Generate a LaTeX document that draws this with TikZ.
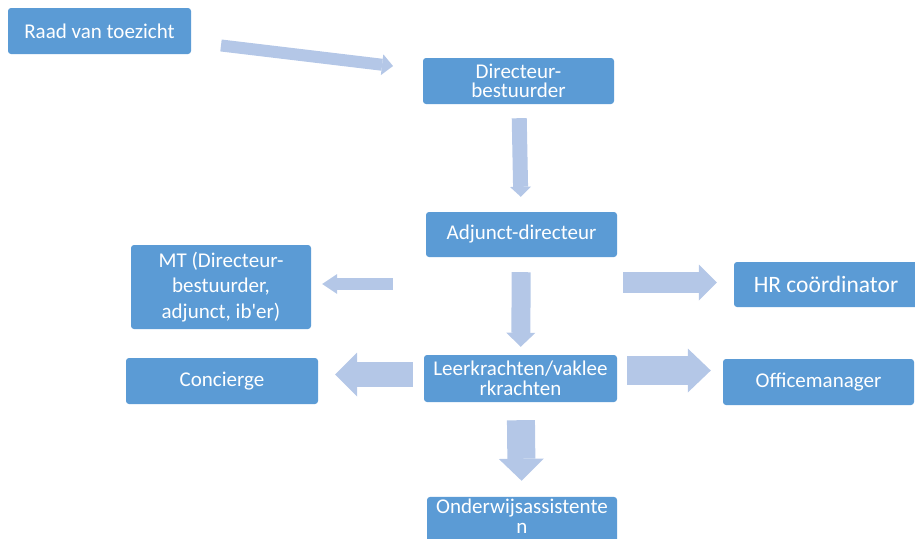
\documentclass[tikz,border=0pt]{standalone}
\usepackage{fontspec}
\setmainfont{Carlito}
\usetikzlibrary{arrows.meta}
\definecolor{boxblue}{HTML}{5B9BD5}
\definecolor{arrowblue}{HTML}{B4C7E7}

\tikzset{
    role/.style={fill=boxblue, text=white, rounded corners=3pt, inner sep=2pt,
        align=center, font=\fontsize{21}{25.5}\selectfont},
    tight/.style={font=\fontsize{21}{19.5}\selectfont},
    flow/.style n args={3}{draw=arrowblue, line width=#1,
        -{Triangle[width=#2, length=#3, line width=0pt]}}
}

\begin{document}
\begin{tikzpicture}[x=1pt, y=-1pt]
    % Canvas
    \useasboundingbox (0,0) rectangle (915,538);

    % Boxes
    \node[role, minimum width=183pt, minimum height=46pt] (raad) at (99.5,31) {Raad van toezicht};
    \node[role, tight, minimum width=191pt, minimum height=46pt] (dir) at (518.5,81) {Directeur-\\bestuurder};
    \node[role, minimum width=191pt, minimum height=45pt] (adj) at (521.5,234.5) {Adjunct-directeur};
    \node[role, minimum width=180pt, minimum height=84pt] (mt) at (221,287) {MT (Directeur-\\bestuurder,\\adjunct, ib\textquotesingle er)};
    \node[role, minimum width=192pt, minimum height=46pt] (conc) at (222,381) {Concierge};
    \node[role, tight, minimum width=193pt, minimum height=47pt] (leer) at (520.5,378.5) {Leerkrachten/vaklee\\rkrachten};
    \node[role, font=\fontsize{23.5}{28}\selectfont, minimum width=184pt, minimum height=45pt] (hr) at (826,284.5) {HR coördinator};
    \node[role, minimum width=191pt, minimum height=46pt] (off) at (818.5,382) {Officemanager};
    \node[role, tight, text depth=8pt, minimum width=190pt, minimum height=46pt] (ond) at (522,520) {Onderwijsassistente\\n};

    % Arrows
    \draw[flow={12pt}{21pt}{11pt}, shorten <=30pt, shorten >=30pt] (raad) -- (dir);
    \draw[flow={15pt}{21pt}{10pt}, shorten <=14pt, shorten >=15pt] (dir) -- (adj);
    \draw[flow={19pt}{29pt}{14pt}, shorten <=15pt, shorten >=8pt] (adj) -- (leer);
    \draw[flow={12pt}{20pt}{15pt}, shorten <=33pt, shorten >=11pt]
        ([yshift=3pt]adj.west |- mt.east) -- ([yshift=3pt]mt.east);
    \draw[flow={21pt}{36pt}{18pt}, shorten <=6pt, shorten >=17pt]
        ([yshift=2pt]hr.west -| adj.east) -- ([yshift=2pt]hr.west);
    \draw[flow={25pt}{44pt}{22pt}, shorten <=11pt, shorten >=17pt]
        ([yshift=4pt]leer.west) -- ([yshift=4pt]leer.west -| conc.east);
    \draw[flow={29pt}{44pt}{23pt}, shorten <=10pt, shorten >=12pt]
        ([yshift=8pt]leer.east) -- ([yshift=8pt]leer.east -| off.west);
    \draw[flow={28pt}{45pt}{22pt}, shorten <=18pt, shorten >=16pt] (leer) -- (ond);
\end{tikzpicture}
\end{document}
